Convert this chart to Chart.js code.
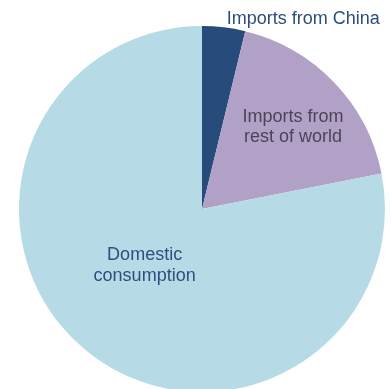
<!Doctype html>
<html>
  <head>
    <meta charset="utf-8"/>
    <style type="text/css">
      body {
        margin: 0px;
        padding: 0px;
        background: #ffffff;
        overflow: hidden;
      }
      #wrap {
        width: 391px;
        height: 389px;
        overflow: hidden;
        position: relative;
      }
      /* pie runs slightly past the bottom edge, as in the source */
      #chart {
        display: block;
      }
    </style>
  </head>
  <body>
    <div id="wrap"><canvas id="chart" width="391" height="393"></canvas></div>
  </body>
  <script src="https://cdn.jsdelivr.net/npm/chart.js@4/dist/chart.umd.min.js"></script>
  <script>
    // shares (percent)
    var categories = ['Imports from China', 'Imports from rest of world', 'Domestic consumption'];
    var shares = [3.8, 18.1, 78.1];
    var labelLines = [['Imports from China'], ['Imports from', 'rest of world'], ['Domestic', 'consumption']];

    var sliceColors = ['#274b7a', '#b1a1c7', '#b7dbe6'];
    var textColors = ['#2d4d7d', '#4d4358', '#2e4f7e'];

    var sliceLabels = {
      id: 'sliceLabels',
      afterDatasetsDraw: function(chart) {
        var ctx = chart.ctx;
        var arcs = chart.getDatasetMeta(0).data;
        ctx.save();
        ctx.font = '18px "Liberation Sans", Arial, sans-serif';
        ctx.textBaseline = 'middle';
        arcs.forEach(function(arc, i) {
          var p = arc.getProps(['x', 'y', 'startAngle', 'endAngle', 'outerRadius'], true);
          var mid = (p.startAngle + p.endAngle) / 2;
          var lines = labelLines[i];
          ctx.fillStyle = textColors[i];
          if (i === 0) {
            // small slice: label sits outside, up and to the right
            var ox = p.x + Math.cos(mid) * p.outerRadius;
            var oy = p.y + Math.sin(mid) * p.outerRadius;
            ctx.textAlign = 'left';
            ctx.fillText(lines[0], ox + 3, oy - 8);
            return;
          }
          var d = i === 1 ? 0.67 : 0.44;
          var a = i === 1 ? mid + 0.03 : mid + 0.105;
          var cx = p.x + Math.cos(a) * p.outerRadius * d;
          var cy = p.y + Math.sin(a) * p.outerRadius * d;
          var lh = i === 1 ? 20 : 21;
          ctx.textAlign = 'center';
          lines.forEach(function(t, k) {
            ctx.fillText(t, cx, cy + (k - (lines.length - 1) / 2) * lh);
          });
        });
        ctx.restore();
      }
    };

    var chart = new Chart(document.getElementById('chart'), {
      type: 'pie',
      data: {
        labels: categories,
        datasets: [{
          data: shares,
          backgroundColor: sliceColors,
          borderWidth: 0,
          hoverOffset: 0
        }]
      },
      options: {
        responsive: false,
        animation: false,
        layout: {
          padding: {left: 19, right: 6, top: 26, bottom: 1}
        },
        plugins: {
          legend: {display: false},
          tooltip: {enabled: false},
          title: {display: false}
        }
      },
      plugins: [sliceLabels]
    });
  </script>
</html>
